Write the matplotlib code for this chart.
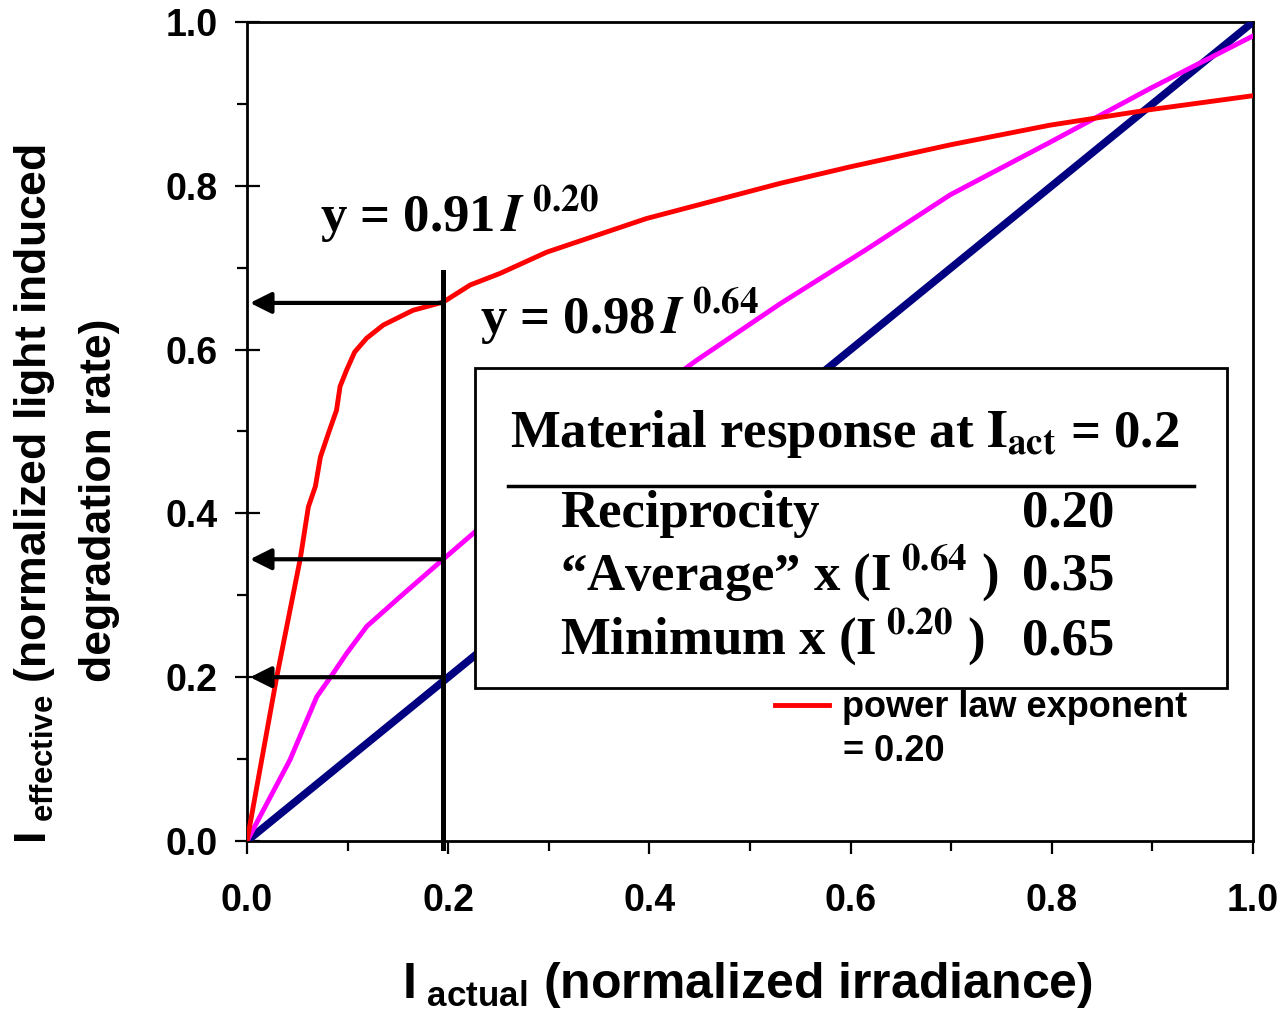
import matplotlib
matplotlib.use('Agg')
import matplotlib.pyplot as plt
from matplotlib.patches import Rectangle
from matplotlib.lines import Line2D
from matplotlib.ticker import MultipleLocator, FormatStrFormatter

# data
x_red = [0, 0.0295, 0.053, 0.061, 0.068, 0.073, 0.081, 0.089, 0.0925, 0.099, 0.107,
         0.119, 0.1355, 0.165, 0.195, 0.222, 0.2515, 0.298, 0.397, 0.53, 0.599,
         0.699, 0.798, 0.898, 1.0]
y_red = [0, 0.200, 0.345, 0.408, 0.433, 0.469, 0.498, 0.526, 0.555, 0.575, 0.597,
         0.614, 0.630, 0.648, 0.658, 0.679, 0.693, 0.719, 0.760, 0.803, 0.823,
         0.850, 0.874, 0.893, 0.910]

x_mag = [0, 0.0427, 0.0693, 0.0858, 0.099, 0.119, 0.152, 0.195, 0.3, 0.447, 0.53,
         0.616, 0.699, 0.798, 0.898, 1.0]
y_mag = [0, 0.099, 0.176, 0.205, 0.229, 0.262, 0.298, 0.344, 0.455, 0.587, 0.656,
         0.7225, 0.789, 0.853, 0.919, 0.983]

x_lin = [0, 1.0]
y_lin = [0, 1.0]

i_act = 0.195
guide_top = 0.695
arrow_levels = [0.657, 0.344, 0.200]

rows = ['Reciprocity', '\u201cAverage\u201d x (I$^{\\ \\mathbf{0.64}}$ )',
        'Minimum x (I$^{\\ \\mathbf{0.20}}$ )']
row_vals = ['0.20', '0.35', '0.65']
ticks = [0.0, 0.2, 0.4, 0.6, 0.8, 1.0]

plt.rcParams['font.family'] = ['Liberation Sans', 'DejaVu Sans']
plt.rcParams['font.weight'] = 'bold'
plt.rcParams['mathtext.fontset'] = 'custom'
plt.rcParams['mathtext.bf'] = 'Liberation Sans:bold'
plt.rcParams['mathtext.rm'] = 'Liberation Sans:bold'
plt.rcParams['mathtext.it'] = 'Liberation Sans:bold'

fig = plt.figure(figsize=(12.83, 10.11), dpi=100)
ax = fig.add_axes([247/1283, 1 - 841/1011, 1006/1283, 819/1011])

ax.plot(x_lin, y_lin, color='#000080', lw=5.5, solid_capstyle='butt', zorder=3)
ax.plot(x_mag, y_mag, color='#FF00FF', lw=3.5, zorder=3)
red_line, = ax.plot(x_red, y_red, color='#FF0000', lw=3.5, zorder=3)

ax.set_xlim(0, 1)
ax.set_ylim(0, 1)
ax.set_xticks(ticks)
ax.set_yticks(ticks)
ax.xaxis.set_minor_locator(MultipleLocator(0.1))
ax.yaxis.set_minor_locator(MultipleLocator(0.1))
ax.xaxis.set_major_formatter(FormatStrFormatter('%.1f'))
ax.yaxis.set_major_formatter(FormatStrFormatter('%.1f'))
for s in ax.spines.values():
    s.set_linewidth(2)
ax.tick_params(axis='x', which='major', direction='out', length=9, width=1.6, pad=21, labelsize=27)
ax.tick_params(axis='x', which='minor', direction='out', length=7, width=1.6)
ax.tick_params(axis='y', which='major', direction='inout', length=18, width=1.6, pad=12, labelsize=27)
ax.tick_params(axis='y', which='minor', direction='out', length=7, width=1.6)

# guide line and arrows at I_act
ax.plot([i_act, i_act], [-0.008, guide_top], color='black', lw=3.6, clip_on=False, zorder=4)
for lev in arrow_levels:
    ax.annotate('', xy=(0.003, lev), xytext=(i_act, lev),
                arrowprops=dict(arrowstyle='-|>', color='black', lw=3, mutation_scale=32,
                                shrinkA=0, shrinkB=0), zorder=4)

# fit equations
ax.text(0.0726, 0.7436, 'y = 0.91$\\,\\mathbfit{I}^{\\ \\mathbf{0.20}}$', fontsize=38,
        family='Liberation Serif', math_fontfamily='stix', va='baseline', zorder=5)
ax.text(0.2316, 0.618, 'y = 0.98$\\,\\mathbfit{I}^{\\ \\mathbf{0.64}}$', fontsize=38,
        family='Liberation Serif', math_fontfamily='stix', va='baseline', zorder=5)

# results box
box = Rectangle((0.2266, 0.1868), 0.7474, 0.3907, transform=ax.transAxes,
                facecolor='white', edgecolor='black', lw=2, zorder=6)
ax.add_patch(box)
ax.text(0.2614, 0.481, 'Material response at $\\mathbf{I}_{\\mathbf{act}}$ = 0.2', fontsize=38,
        family='Liberation Serif', math_fontfamily='stix', va='baseline', zorder=7)
ax.add_line(Line2D([0.2594, 0.9414], [0.4335, 0.4335], transform=ax.transAxes,
                   color='black', lw=2.5, zorder=7))
row_y = [0.3834, 0.3065, 0.2283]
for lab, val, yy in zip(rows, row_vals, row_y):
    ax.text(0.311, yy, lab, fontsize=38, family='Liberation Serif', math_fontfamily='stix',
            va='baseline', zorder=7)
    ax.text(0.7704, yy, val, fontsize=38, family='Liberation Serif', va='baseline', zorder=7)

# legend
ax.legend([red_line], ['power law exponent'], loc='center left', bbox_to_anchor=(0.525, 0.1624),
          frameon=False, borderpad=0, borderaxespad=0, handlelength=1.5, handletextpad=0.35,
          fontsize=26)
ax.text(0.5924, 0.1087, '= 0.20', fontsize=26, va='center', zorder=7)

# axis titles
fig.text(0.5825, 0.026, '$\\mathbf{I}_{\\ \\mathbf{actual}}$ (normalized irradiance)', fontsize=36,
         ha='center', va='center')
fig.text(35/1283, 1 - 494/1011, '$\\mathbf{I}_{\\ \\mathbf{effective}}$ (normalized light induced',
         fontsize=32, rotation=90, ha='center', va='center')
fig.text(100/1283, 1 - 500/1011, 'degradation rate)', fontsize=32, rotation=90,
         ha='center', va='center')

fig.savefig('out.png', dpi=100)
